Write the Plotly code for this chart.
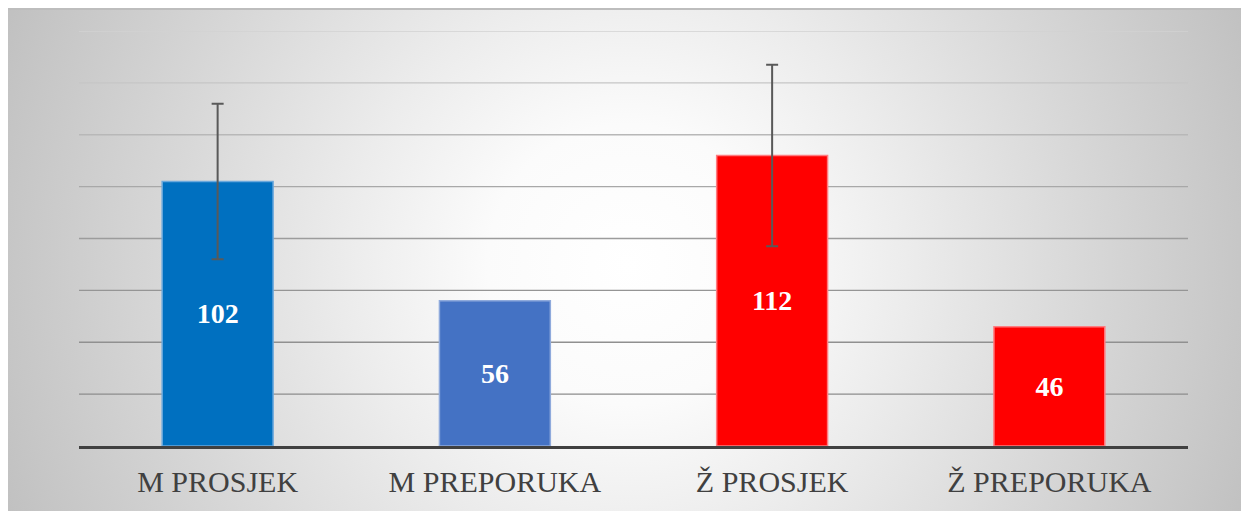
import base64
import plotly.graph_objects as go

# ---- data ----
categories = ["M PROSJEK", "M PREPORUKA", "Ž PROSJEK", "Ž PREPORUKA"]
values = [102, 56, 112, 46]
err_categories = ["M PROSJEK", "Ž PROSJEK"]
err_values = [102, 112]
err_sizes = [30, 35]
bar_colors = ["#0070C0", "#4472C4", "#FF0000", "#FF0000"]
bar_edge_colors = ["#6AA8DC", "#8FAADC", "#FF7C80", "#FF7C80"]
grid_values = [20, 40, 60, 80, 100, 120, 140, 160]
grid_colors = ["#8c8c8c", "#909090", "#959595", "#9c9c9c", "#a8a8a8", "#b8b8b8", "#c6c6c6", "#d2d2d2"]

W, H = 1249, 513
ML, MR, MT, MB = 71, 69, 23, 75
PW, PH = W - ML - MR, H - MT - MB

# radial gradient background as an SVG image covering the paper
BW, BH = W, 503
svg = f'''<svg xmlns="http://www.w3.org/2000/svg" width="{BW}" height="{BH}" viewBox="0 0 {BW} {BH}">
<defs><radialGradient id="g" gradientUnits="userSpaceOnUse" cx="{BW/2 - 5}" cy="{BH/2 + 5}" r="700">
<stop offset="0" stop-color="#ffffff"/>
<stop offset="0.2" stop-color="#fbfbfb"/>
<stop offset="0.4" stop-color="#ececec"/>
<stop offset="0.65" stop-color="#d8d8d8"/>
<stop offset="0.9" stop-color="#c5c5c5"/>
<stop offset="1" stop-color="#bdbdbd"/>
</radialGradient></defs>
<rect x="0" y="0" width="{BW}" height="{BH}" fill="url(#g)"/>
<line x1="0" y1="1" x2="{BW}" y2="1" stroke="#bdbdbd" stroke-width="2"/>
</svg>'''
src = "data:image/svg+xml;base64," + base64.b64encode(svg.encode()).decode()

fig = go.Figure()
fig.add_trace(go.Bar(
    x=categories, y=values,
    marker=dict(color=bar_colors, line=dict(color=bar_edge_colors, width=1.5)),
    text=[str(v) for v in values],
    textposition="inside", insidetextanchor="middle", textangle=0,
    textfont=dict(family="Liberation Serif", size=28, color="white", weight="bold"),
    width=0.4,
    hoverinfo="skip",
))
fig.add_trace(go.Scatter(
    x=err_categories, y=err_values, mode="markers",
    marker=dict(size=1, opacity=0),
    error_y=dict(type="data", array=err_sizes, visible=True, color="#595959", thickness=2, width=6),
    hoverinfo="skip",
))

shapes = []
for gv, gc in zip(grid_values, grid_colors):
    shapes.append(dict(type="line", xref="paper", yref="y", x0=0, x1=1, y0=gv, y1=gv,
                       line=dict(color=gc, width=1.3), layer="below"))

fig.update_layout(
    width=W, height=H,
    margin=dict(l=ML, r=MR, t=MT, b=MB),
    paper_bgcolor="white", plot_bgcolor="rgba(0,0,0,0)",
    showlegend=False,
    shapes=shapes,
    images=[dict(source=src, xref="paper", yref="paper",
                 x=(0 - ML) / PW, y=(H - MB) / PH,
                 sizex=BW / PW, sizey=BH / PH,
                 xanchor="left", yanchor="top", sizing="stretch", layer="below")],
    xaxis=dict(showgrid=False, showline=True, linecolor="#404040", linewidth=3,
               zeroline=False, ticks="",
               tickfont=dict(family="Liberation Serif", size=30, color="#404040"),
               ticklabelstandoff=7),
    yaxis=dict(range=[0, 160], showgrid=False, zeroline=False, showticklabels=False,
               showline=False, ticks=""),
)

fig.write_html("out.html")
